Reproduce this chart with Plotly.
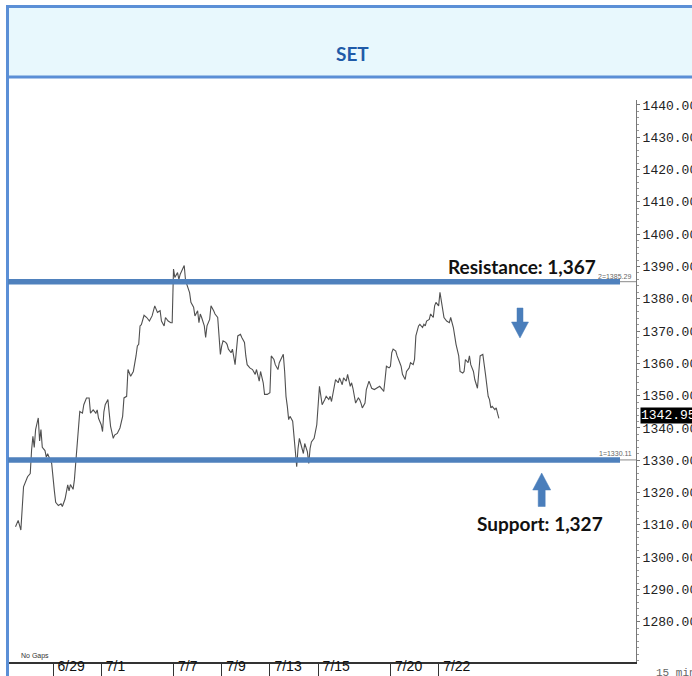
import plotly.graph_objects as go

# ---------------- data ----------------
# x: 15-minute bar index counted from the 6/29 open (18 bars per session)
bars = [-28, -26, -24, -23, -22, -19, -17, -16, -15, -14, -13, -11, -10, -9, -8, -6, -5, -4, -3, -1,
        1, 2, 4, 6, 7, 9, 11, 12, 13, 15, 16, 17, 18, 20, 22, 23, 25, 27, 28, 30, 32, 33, 34, 36, 37, 38,
        39, 41, 42, 43, 45, 46, 48, 50, 52, 53, 55, 56, 58, 60, 62, 63, 64, 65, 66, 68, 70, 72, 74, 75,
        76, 78, 80, 81, 83, 84, 86, 88, 89, 90, 91, 93, 94, 95, 97, 98, 99, 101, 102, 103, 105, 106, 108,
        109, 110, 111, 113, 114, 115, 117, 118, 120, 121, 123, 124, 125, 126, 127, 129, 130, 131, 133,
        134, 135, 136, 138, 140, 141, 143, 144, 145, 147, 149, 151, 152, 154, 155, 157, 158, 160, 162,
        163, 165, 166, 168, 169, 171, 172, 173, 174, 175, 176, 177, 179, 180, 181, 182, 183, 184, 185,
        187, 188, 190, 191, 192, 193, 195, 196, 197, 199, 200, 201, 203, 204, 206, 207, 208, 210, 211,
        213, 214, 216, 217, 219, 220, 222, 223, 224, 225, 226, 228, 229, 230, 231, 233, 234, 236, 237,
        238, 240, 242, 244, 246, 247, 248, 249, 251, 252, 253, 254, 256, 257, 259, 260, 261, 263, 264,
        266, 267, 269, 270, 271, 273, 274, 276, 277, 278, 279, 281, 282, 284, 285, 286, 288, 289, 290,
        291, 292, 294, 296, 297, 299, 300, 301, 303, 304, 306, 307, 308, 310, 311, 312, 314, 315, 317,
        318, 319, 321, 322, 323, 325, 326, 327, 328, 330, 331, 332, 333]
prices = [1309.4, 1311.4, 1308.4, 1316.6, 1321.8, 1324.9, 1325.9, 1333.2, 1337.4, 1334.0, 1339.5, 1343.1,
          1336.0, 1339.5, 1334.0, 1333.0, 1331.0, 1332.0, 1331.0, 1329.0,
          1320.6, 1317.0, 1316.0, 1316.5, 1315.7, 1318.0, 1322.4, 1320.5, 1322.5, 1321.0, 1324.0, 1329.0,
          1335.0, 1345.1, 1344.6, 1347.2, 1349.3, 1349.3, 1344.6, 1345.6, 1344.6, 1345.6, 1343.0, 1341.0,
          1338.9, 1345.0, 1347.2, 1348.8, 1344.6, 1340.5, 1336.8, 1337.8, 1338.3, 1340.0, 1343.6, 1349.3,
          1349.8, 1358.1, 1356.0, 1357.5, 1362.3, 1365.4, 1365.9, 1371.6, 1372.0, 1374.9, 1374.2, 1373.1,
          1374.7, 1376.3, 1377.8, 1375.8, 1376.3, 1373.1, 1371.6, 1374.2, 1373.1, 1372.6, 1372.6, 1389.2,
          1386.6, 1388.1, 1386.0, 1387.6, 1389.7, 1390.3, 1385.6, 1383.5, 1381.9, 1378.9, 1377.4, 1374.7,
          1376.3, 1372.6, 1375.3, 1374.2, 1371.6, 1368.0, 1371.6, 1373.6, 1377.8, 1376.3, 1375.3, 1374.2,
          1368.5, 1362.8, 1365.4, 1367.0, 1366.5, 1365.9, 1364.4, 1363.3, 1364.4, 1361.2, 1359.6, 1368.5,
          1369.0, 1368.0, 1366.5, 1362.3, 1359.6, 1358.6, 1358.1, 1356.6, 1358.1, 1354.5, 1357.5, 1354.0,
          1350.4, 1350.4, 1350.9, 1362.3, 1361.2, 1359.6, 1358.1, 1360.2, 1362.3, 1362.8, 1357.5, 1349.8,
          1346.7, 1342.6, 1343.6, 1342.1, 1337.4, 1331.1, 1328.0, 1333.7, 1336.8, 1335.2, 1332.1, 1335.2,
          1332.6, 1329.0, 1333.7, 1335.7, 1336.8, 1338.9, 1341.0, 1352.9, 1349.8, 1347.2, 1348.8, 1349.8,
          1348.8, 1349.8, 1348.2, 1353.4, 1355.0, 1354.0, 1355.5, 1353.4, 1355.5, 1354.5, 1356.6, 1352.9,
          1354.0, 1352.3, 1349.3, 1347.7, 1349.3, 1348.8, 1347.7, 1346.2, 1347.7, 1351.9, 1354.5, 1353.4,
          1352.3, 1351.9, 1352.3, 1352.9, 1351.9, 1351.3, 1355.0, 1359.1, 1358.6, 1359.1, 1363.3, 1364.4,
          1363.8, 1362.3, 1360.2, 1359.1, 1356.6, 1355.0, 1357.5, 1358.6, 1360.2, 1359.6, 1361.2, 1368.5,
          1371.6, 1372.1, 1371.1, 1372.1, 1371.6, 1373.1, 1373.6, 1375.3, 1374.2, 1377.8, 1378.9, 1377.8,
          1382.0, 1378.9, 1376.8, 1374.2, 1373.1, 1372.6, 1374.2, 1371.1, 1368.5, 1365.9, 1362.3, 1357.5,
          1357.0, 1357.5, 1361.2, 1360.2, 1362.3, 1359.6, 1357.5, 1355.0, 1352.3, 1357.0, 1362.3, 1362.8,
          1360.2, 1356.6, 1349.8, 1348.8, 1346.2, 1346.7, 1345.7, 1346.2, 1344.5, 1343.0]

date_ticks = [0, 36, 90, 126, 162, 198, 252, 288]
date_labels = ["6/29", "7/1", "7/7", "7/9", "7/13", "7/15", "7/20", "7/22"]
price_ticks = [1280, 1290, 1300, 1310, 1320, 1330, 1340, 1350, 1360, 1370, 1380, 1390,
               1400, 1410, 1420, 1430, 1440]

resistance_level = 1385.29
support_level = 1330.11
last_price = 1342.95
title_text = "SET"
resistance_text = "Resistance: 1,367"
support_text = "Support: 1,327"

# ---------------- layout helpers (pixel -> paper) ----------------
W, H = 692, 676
L, R, T, B = 9, 636, 100, 662


def px(x):
    return (x - L) / (R - L)


def py(y):
    return (B - y) / (B - T)


BLUE = "#4F81BD"
FRAME = "#5B8FD6"

fig = go.Figure()
fig.add_trace(go.Scatter(x=bars, y=prices, mode="lines",
                         line=dict(color="#505050", width=1.1),
                         hoverinfo="skip", showlegend=False))

shapes = []
# header band + frame
shapes.append(dict(type="rect", xref="paper", yref="paper",
                   x0=px(7.5), x1=px(760), y0=py(6.5), y1=py(77),
                   fillcolor="#E8F8FD", line=dict(color=FRAME, width=3), layer="above"))
shapes.append(dict(type="line", xref="paper", yref="paper",
                   x0=px(7.5), x1=px(7.5), y0=py(77), y1=py(690),
                   line=dict(color=FRAME, width=3), layer="above"))
# chart's own thin level lines
for lv in (resistance_level, support_level):
    shapes.append(dict(type="line", xref="paper", yref="y", x0=px(580), x1=1,
                       y0=lv, y1=lv, line=dict(color="#8a8a8a", width=1), layer="above"))
# thick blue level lines
for lv in (resistance_level, support_level):
    shapes.append(dict(type="line", xref="paper", yref="y", x0=px(8), x1=px(620),
                       y0=lv, y1=lv, line=dict(color=BLUE, width=5.5), layer="above"))


def arrow_path(pts):
    s = "M " + " L ".join(f"{px(a):.5f},{py(b):.5f}" for a, b in pts) + " Z"
    return s


down_pts = [(517, 308), (523, 308), (523, 322), (528.5, 322), (520, 338), (511.5, 322), (517, 322)]
up_pts = [(541.7, 473), (550.7, 490), (545.2, 490), (545.2, 506.5), (538.2, 506.5), (538.2, 490), (532.7, 490)]
for p in (down_pts, up_pts):
    shapes.append(dict(type="path", xref="paper", yref="paper", path=arrow_path(p),
                       fillcolor="#4A7EBB", line=dict(color="#4A7EBB", width=0.5), layer="above"))

annotations = [
    dict(text=f"<b>{title_text}</b>", xref="paper", yref="paper", x=px(352), y=py(53),
         xanchor="center", yanchor="middle", showarrow=False,
         font=dict(family="Lato", size=19, color="#1F5BA8")),
    dict(text=f"<b>{resistance_text}</b>", xref="paper", yref="paper", x=px(446), y=py(266),
         xanchor="left", yanchor="middle", showarrow=False,
         font=dict(family="Lato", size=19, color="#111")),
    dict(text=f"<b>{support_text}</b>", xref="paper", yref="paper", x=px(475), y=py(523),
         xanchor="left", yanchor="middle", showarrow=False,
         font=dict(family="Lato", size=19, color="#111")),
    dict(text=f"2={resistance_level:.2f}", xref="paper", yref="y", x=px(633), y=resistance_level,
         xanchor="right", yanchor="bottom", yshift=0, showarrow=False,
         font=dict(family="Liberation Sans", size=7, color="#666")),
    dict(text=f"1={support_level:.2f}", xref="paper", yref="y", x=px(634), y=support_level,
         xanchor="right", yanchor="bottom", yshift=1, showarrow=False,
         font=dict(family="Liberation Sans", size=7, color="#666")),
    dict(text=f"{last_price:.2f}", xref="paper", yref="y", x=px(639.5), y=last_price,
         xanchor="left", yanchor="middle", yshift=3, showarrow=False, bgcolor="#000",
         borderpad=0, font=dict(family="Liberation Mono", size=13, color="#fff")),
    dict(text="No Gaps", xref="paper", yref="paper", x=px(19), y=py(656),
         xanchor="left", yanchor="middle", showarrow=False,
         font=dict(family="Liberation Sans", size=7, color="#333")),
    dict(text="15 min", xref="paper", yref="paper", x=px(654), y=py(673),
         xanchor="left", yanchor="middle", showarrow=False,
         font=dict(family="Liberation Mono", size=11, color="#666")),
]

# price range so that data pixels match the reference
ymin, ymax = 1267.55, 1441.54
x0b = (L - 53) / 1.339
x1b = (R - 53) / 1.339

fig.update_layout(
    width=W, height=H, autosize=False,
    margin=dict(l=L, r=W - R, t=T, b=H - B, pad=0),
    paper_bgcolor="white", plot_bgcolor="white",
    shapes=shapes, annotations=annotations, showlegend=False,
    xaxis=dict(range=[x0b, x1b], tickvals=date_ticks, ticktext=date_labels, automargin=False,
               showgrid=False, zeroline=False, showline=True, linecolor="#333", linewidth=2,
               ticks="outside", ticklen=14, tickwidth=1, tickcolor="#333",
               ticklabelposition="outside right", ticklabelstandoff=-10,
               ticklabeloverflow="allow", ticklabelshift=3,
               tickfont=dict(family="Liberation Sans", size=14, color="#111")),
    yaxis=dict(range=[ymin, ymax], side="right", tickvals=price_ticks, tickformat=".2f",
               automargin=False,
               showgrid=False, zeroline=False, showline=True, linecolor="#777", linewidth=1,
               ticks="outside", ticklen=3, tickcolor="#777",
               minor=dict(ticks="outside", ticklen=2, dtick=2, tickcolor="#999"),
               ticklabeloverflow="allow",
               tickfont=dict(family="Liberation Mono", size=13, color="#222")),
)

fig.write_html("out.html")
